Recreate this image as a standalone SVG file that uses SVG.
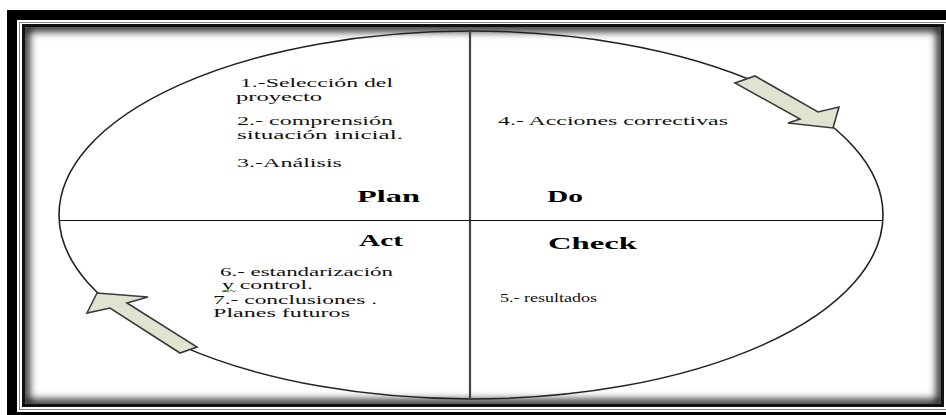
<svg xmlns="http://www.w3.org/2000/svg" width="946" height="415" viewBox="0 0 946 415">
<style>
.t{font-family:"Liberation Serif","Times New Roman",serif;font-size:12px;fill:#111}
.b{font-family:"Liberation Serif","Times New Roman",serif;font-size:17px;font-weight:bold;fill:#000}
.arrow{fill:#dfe3cf;stroke:#3a3a3a;stroke-width:1.6;stroke-linejoin:miter}
.ln{stroke:#222;fill:none}
</style>
<defs>
<clipPath id="inner"><rect x="25" y="27" width="916" height="377"/></clipPath>
<filter id="blur" x="-5%" y="-5%" width="110%" height="110%"><feGaussianBlur stdDeviation="4"/></filter>
</defs>
<rect width="946" height="415" fill="#fff"/>
<g id="frame">
<rect x="7" y="10" width="960" height="420" fill="#000"/>
<rect x="17" y="20" width="960" height="392" fill="#fff"/>
<rect x="19.5" y="22.5" width="960" height="387" fill="none" stroke="#888" stroke-width="1"/>
<rect x="22" y="24" width="922" height="383" fill="#111"/>
<rect x="25" y="27" width="916" height="377" fill="#fff"/>
<g clip-path="url(#inner)"><rect x="25" y="27" width="916" height="377" fill="none" stroke="#000" stroke-width="8" filter="url(#blur)"/></g>
</g>
<g id="cycle">
<ellipse cx="471" cy="215" rx="412" ry="184" class="ln" stroke-width="1.6"/>
<line x1="470" y1="31" x2="470" y2="399" stroke="#444" stroke-width="2.2"/>
<line x1="59" y1="220.5" x2="883" y2="220.5" stroke="#111" stroke-width="1.2"/>
</g>
<g id="plan">
<text class="t" x="240" y="87" textLength="153" lengthAdjust="spacingAndGlyphs">1.-Selección del</text>
<text class="t" x="236" y="101" textLength="86" lengthAdjust="spacingAndGlyphs">proyecto</text>
<text class="t" x="237" y="125" textLength="156" lengthAdjust="spacingAndGlyphs">2.- comprensión</text>
<text class="t" x="237" y="139" textLength="166" lengthAdjust="spacingAndGlyphs">situación  inicial.</text>
<text class="t" x="237" y="167" textLength="105" lengthAdjust="spacingAndGlyphs">3.-Análisis</text>
<text class="b" x="357" y="202" textLength="63" lengthAdjust="spacingAndGlyphs">Plan</text>
</g>
<g id="do">
<text class="t" x="498" y="125" textLength="230" lengthAdjust="spacingAndGlyphs">4.- Acciones correctivas</text>
<text class="b" x="547" y="202" textLength="36" lengthAdjust="spacingAndGlyphs">Do</text>
</g>
<g id="check">
<text class="b" x="548" y="249" textLength="89" lengthAdjust="spacingAndGlyphs">Check</text>
<text class="t" x="500" y="302" textLength="97" lengthAdjust="spacingAndGlyphs">5.- resultados</text>
</g>
<g id="act">
<text class="b" x="359" y="246" textLength="44" lengthAdjust="spacingAndGlyphs">Act</text>
<text class="t" x="220" y="276" textLength="173" lengthAdjust="spacingAndGlyphs">6.- estandarización</text>
<text class="t" x="222" y="289" textLength="91" lengthAdjust="spacingAndGlyphs">y control.</text>
<polyline points="222,292 225,290 228,292 231,290 234,292 236,290" fill="none" stroke="#3c9a3c" stroke-width="1"/>
<text class="t" x="213" y="304" textLength="164" lengthAdjust="spacingAndGlyphs">7.- conclusiones .</text>
<text class="t" x="213" y="317" textLength="137" lengthAdjust="spacingAndGlyphs">Planes futuros</text>
</g>
<g id="connectors">
<polygon class="arrow" points="755,76 818,112 839,107 833,128 788,123 800,119 735,83"/>
<polygon class="arrow" points="97,293 148,297 127,303 197,347 180,353 110,308 87,313"/>
</g>
</svg>
